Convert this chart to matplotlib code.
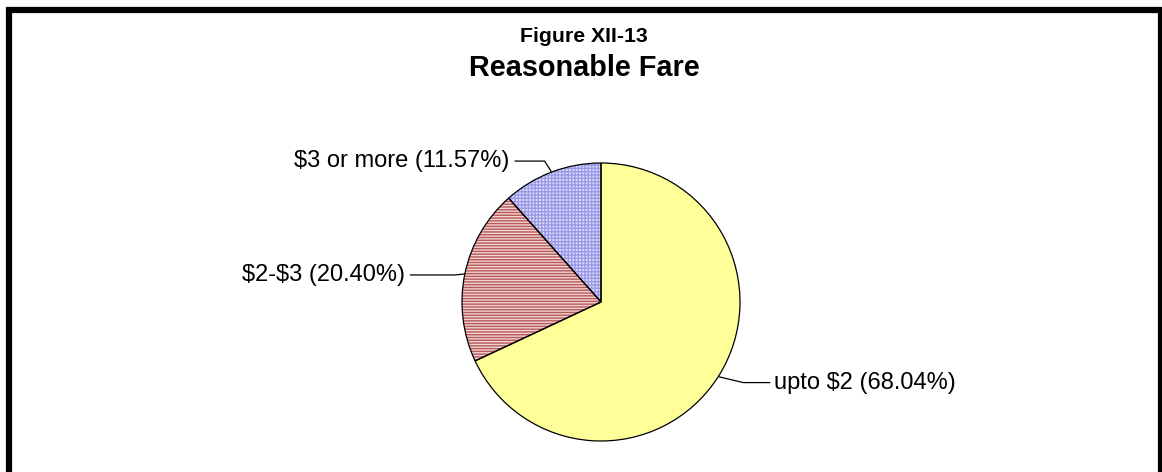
import numpy as np
import matplotlib
matplotlib.use("Agg")
import matplotlib.pyplot as plt
from matplotlib.patches import Wedge, Rectangle

plt.rcParams["font.family"] = ["Liberation Sans", "DejaVu Sans"]
plt.rcParams["hatch.linewidth"] = 1.0
plt.rcParams["text.parse_math"] = False

# Survey responses: what fare riders consider reasonable
categories = ["upto $2", "$2-$3", "$3 or more"]
shares = [68.04, 20.40, 11.57]
title_top = "Figure XII-13"
title_main = "Reasonable Fare"

face_colors = ["#ffff99", "#f3d2d2", "#dedef8"]
hatch_colors = [None, "#b65a5a", "#9a9ae8"]
hatches = [None, "------", "+++++"]

W, H = 1162, 472
fig = plt.figure(figsize=(W / 100, H / 100), dpi=100)
ax = fig.add_axes([0, 0, 1, 1])

cx, cy, r = 601, 170, 139
wedges, _ = ax.pie(shares, startangle=90, counterclock=False,
                   center=(cx, cy), radius=r, frame=True,
                   colors=face_colors,
                   wedgeprops=dict(edgecolor="none", linewidth=0))

for w, hc, ht in zip(wedges, hatch_colors, hatches):
    if ht:
        ax.add_patch(Wedge((cx, cy), r, w.theta1, w.theta2, facecolor="none",
                           edgecolor=hc, hatch=ht, linewidth=0, zorder=2))
    ax.add_patch(Wedge((cx, cy), r, w.theta1, w.theta2, facecolor="none",
                       edgecolor="black", linewidth=0.9, zorder=3))

# Leader lines and labels: (elbow dx, elbow dy, horizontal run, side)
leaders = [(25, -6, 27, "right"), (-10, -1, -45, "left"), (-7, 11, -30, "left")]
for w, cat, val, (ex, ey, run, side) in zip(wedges, categories, shares, leaders):
    mid = np.deg2rad((w.theta1 + w.theta2) / 2)
    px, py = cx + r * np.cos(mid), cy + r * np.sin(mid)
    bx, by = px + ex, py + ey
    tx = bx + run
    ax.plot([px, bx, tx], [py, by, by], color="black", lw=0.9, zorder=4,
            solid_capstyle="butt")
    ha = "left" if side == "right" else "right"
    off = 4 if side == "right" else -5
    ax.text(tx + off, by, f"{cat} ({val:.2f}%)", ha=ha, va="center",
            fontsize=17, color="black")

ax.set_xlim(0, W)
ax.set_ylim(0, H)
ax.set_aspect("equal")
ax.axis("off")

fig.text(584 / W, 1 - 37 / H, title_top, ha="center", va="center",
         fontsize=15.3, fontweight="bold")
fig.text(584 / W, 1 - 68 / H, title_main, ha="center", va="center",
         fontsize=20.8, fontweight="bold")

# Thick frame around the chart area
fig.patches.append(Rectangle((9 / W, -20 / H), (1161 - 9) / W, (H - 9.5 + 20) / H,
                             transform=fig.transFigure, fill=False,
                             edgecolor="black", linewidth=4.5))

fig.savefig("out.png", dpi=100)
